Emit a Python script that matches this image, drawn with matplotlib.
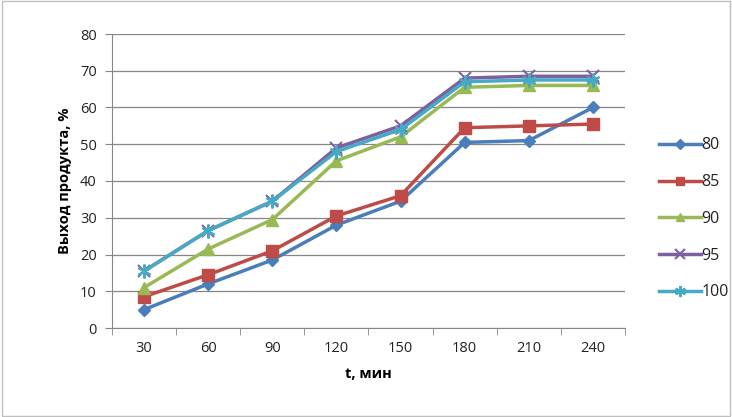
import matplotlib.pyplot as plt
import numpy as np

t_labels = ["30", "60", "90", "120", "150", "180", "210", "240"]
y80 = [5, 12, 18.5, 28, 34.5, 50.5, 51, 60]
y85 = [8.5, 14.5, 21, 30.5, 36, 54.5, 55, 55.5]
y90 = [11, 21.5, 29.5, 45.5, 52, 65.5, 66, 66]
y95 = [15.5, 26.5, 34.5, 49, 55, 68, 68.5, 68.5]
y100 = [15.5, 26.5, 34.5, 48, 54, 67, 67.5, 67.5]
series_names = ["80", "85", "90", "95", "100"]

plt.rcParams['font.family'] = ['Open Sans', 'DejaVu Sans']

fig = plt.figure(figsize=(7.32, 4.17), dpi=100)
ax = fig.add_axes([112 / 732, 1 - 328 / 417, (625 - 112) / 732, (328 - 34) / 417])

# outer frame of the chart
fig.patches.append(plt.Rectangle((0.003, 0.003), 0.994, 0.994, transform=fig.transFigure,
                                 fill=False, edgecolor='#bfbfbf', linewidth=1))

x = np.arange(len(t_labels))
styles = [
    (y80, '#4A7EBB', 'D', 6),
    (y85, '#BE4B48', 's', 8),
    (y90, '#98B954', '^', 8),
    (y95, '#7D60A0', 'x', 9),
    (y100, '#46AAC5', (6, 2, 0), 10),
]
for (vals, col, mk, ms), name in zip(styles, series_names):
    ax.plot(x, vals, color=col, linewidth=2.5, marker=mk, markersize=ms,
            markeredgewidth=1.5 if mk in ('x', (6, 2, 0)) else 1,
            markeredgecolor=col, markerfacecolor=col, label=name)

ax.set_xlim(-0.5, len(t_labels) - 0.5)
ax.set_ylim(0, 80)
ax.set_yticks(range(0, 81, 10))
ax.set_xticks(x)
ax.set_xticklabels(t_labels)
ax.set_xticks(np.arange(-0.5, len(t_labels)), minor=True)
ax.tick_params(axis='x', which='major', length=0, pad=9, labelsize=10.5)
ax.tick_params(axis='x', which='minor', length=5, color='#868686')
ax.tick_params(axis='y', length=5, color='#868686', labelsize=10.5, pad=6)
for lbl in ax.get_yticklabels() + ax.get_xticklabels():
    lbl.set_color('#222222')

ax.grid(axis='y', color='#868686', linewidth=0.9)
ax.set_axisbelow(True)
for s in ['top', 'right']:
    ax.spines[s].set_visible(False)
ax.spines['left'].set_color('#868686')
ax.spines['bottom'].set_color('#868686')

ax.set_xlabel("t, мин", fontweight='bold', fontsize=10.5, labelpad=8)
ax.set_ylabel("Выход продукта, %", fontweight='bold', fontsize=10.5, labelpad=6)

leg = ax.legend(loc='upper left', bbox_to_anchor=(645 / 732, 1 - 123 / 417), bbox_transform=fig.transFigure,
                frameon=False, fontsize=11.5, handlelength=2.6, labelspacing=1.3, handletextpad=0.05,
                markerscale=0.8)
for txt in leg.get_texts():
    txt.set_color('#222222')

fig.savefig("out.png", dpi=100)
